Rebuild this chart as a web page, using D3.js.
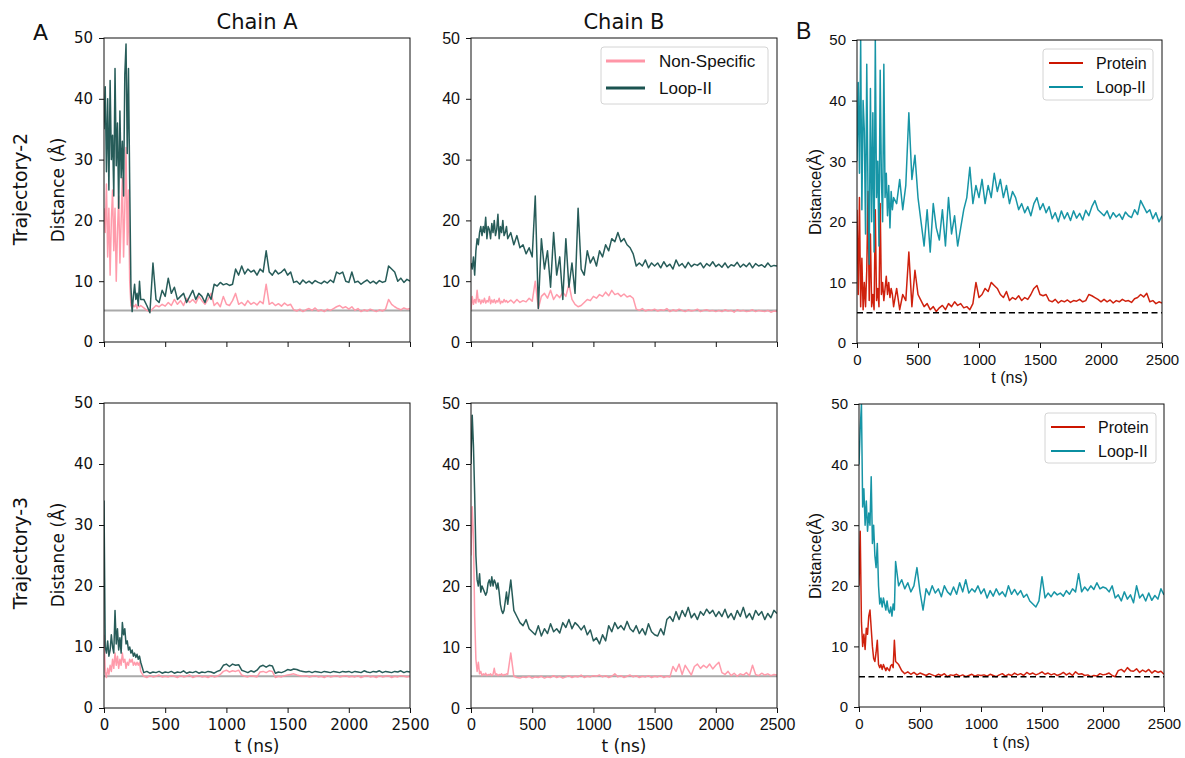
<!DOCTYPE html>
<meta charset="utf-8">

<!-- Load d3.js -->
<script src="https://d3js.org/d3.v7.min.js"></script>

<style>
  body { margin: 0; background: #fff; }
</style>

<!-- Create a div where the graph will take place -->
<div id="my_dataviz"></div>

<script>

// time axis (ns): 10 ns steps up to 300, then 25 ns steps
var timeNs = [0,10,20,30,40,50,60,70,80,90,100,110,120,130,140,150,160,170,180,190,200,210,220,230,240,250,260,270,280,290,300,
  325,350,375,400,425,450,475,500,
  525,550,575,600,625,650,675,700,725,750,775,800,825,850,875,900,925,950,975,1000,
  1025,1050,1075,1100,1125,1150,1175,1200,1225,1250,1275,1300,1325,1350,1375,1400,1425,1450,1475,1500,
  1525,1550,1575,1600,1625,1650,1675,1700,1725,1750,1775,1800,1825,1850,1875,1900,1925,1950,1975,2000,
  2025,2050,2075,2100,2125,2150,2175,2200,2225,2250,2275,2300,2325,2350,2375,2400,2425,2450,2475,2500];

// Trajectory-2, Chain A
var t2aNonSpecific = [22,18,26,14,22,11,20,25,15,22, 10,18,24,13,20,27,14,22,32,16, 25,10,6,5.5,6,5.8,6.2,5.5,6,5.8, 6,
  5.6,5.2,5,5.5,6,5.8,6.2,5.9,
  6.5,6,7,6.2,6.8,6,7.2,6.5,7,6.4, 7.5,6.8,6.2,7,8,6,6.5,5.8,7.5,6.2,
  6,6.8,8,6.2,6.5,6,6.8,6.2,6.5,6.1, 6.7,6.3,9.5,6.2,6.5,6,6.3,5.9,6.4,6,
  6.2,5.3,5.1,5.4,5,5.3,5.5,5.2,5.6,5.1, 5.3,5,5.4,5.2,5.5,5.8,6,5.6,5.8,5.4,
  5.8,5.2,5.5,5,5.3,5.1,5.4,5.2,5,5.3, 5.1,5.4,7,6.2,5.8,5.5,5.3,5.6,5.4,5.5];
var t2aLoop = [35,42,28,40,25,43,30,34,24,45, 29,36,22,38,27,33,24,44,49,31, 45,26,9,5,7.5,9.5,7,8,6,10, 7,
  7,6,4.8,13,7,6.5,8.5,7.5,
  10.5,8,9,7,7.5,8,6.5,7.5,8.5,7, 8,7.5,6.5,8,7,9.5,9.2,9.8,9.4,9.6,
  9.3,9.5,12,11,12.5,11.2,12,11.5,11.8,11, 12,11.5,15,11.5,11,11.8,11.2,11.5,12,11,
  11.5,9.8,10,9.5,10.2,9.7,10,9.6,10.1,9.8, 9.6,10,9.7,10.2,9.8,11.5,11.2,11.5,10,9.8,
  11.5,9.8,10,9.5,9.9,10.2,9.7,10,9.6,10.1, 9.8,10,12.5,12,11.5,10,10.5,9.8,10.3,10];

// Trajectory-2, Chain B
var t2bNonSpecific = [5.3,7.5,6.2,7,6.4,8.5,6.6,7,6.3,6.9, 6.5,7.2,6.4,6.8,6.6,7.5,6.3,6.9,6.5,7, 6.4,6.8,6.6,7.2,6.3,6.7,6.5,7,6.6,6.8, 6.5,
  6.9,6.4,7,6.5,6.8,6.6,7.2,6.7,
  10,5.5,7.5,8,7.2,8.5,7,7.8,7.3,8.2, 7.5,9.5,7,6.2,5.8,6,6.5,7,6.8,7.5,
  7.2,7.8,7.5,8.2,7.6,8.5,7.8,8,7.5,7.9, 7.4,7.6,7.2,5.4,5.2,5.5,5.1,5.3,5.2,5.4,
  5.1,5.3,5.2,5.5,5,5.3,5.1,5.4,5.2,5, 5.3,5.1,5.2,5.4,5,5.2,5.3,5.1,5.2,5,
  5.2,5,5.3,5.1,5.2,4.9,5.3,5.1,5.2,5, 5.1,5.3,5,5.2,5.1,5,5.2,4.9,5.1,5];
var t2bLoop = [13,12,14,11,15,17,16,18,19,17.5, 19,18,20.5,17,19,18.5,17,19.5,18,20, 17.5,18.5,21,17,19,18,20,17.5,18,19, 17,
  18,16,17.5,15.5,16,14.5,15.5,14,
  24,5.5,17,12,15,9,18,11,14,7, 17,9,13,8,22,12,11,15,13,14,
  12.5,15,14,16,15,17,16.5,18,16.5,17, 16,15.5,14.5,12.5,13,12.5,13.5,12.2,13,12.5,
  13,12.2,13.2,12.4,12.8,12,13.5,12.5,12.9,12.2, 13.1,12.4,12.8,12.6,13,12.2,12.9,12.5,13.2,12.4,
  12.8,12.3,13,12.2,12.7,12.5,13.1,12.3,12.8,12.4, 13,12.2,12.9,12.5,12.7,12.3,13,12.4,12.6,12.5];

// Trajectory-2, whole (panel B)
var t2Protein = [22,8,24,6,14,5.5,10,6,12,25, 7,18,6,8,5.5,22,7,9,6,23, 8,10,7,9,11,8,10,7.5,9,8, 6,
  9,5.5,8,7,15,6,12,8,
  7,6,6.5,5.5,6,5.2,5.8,6.2,5.5,6.5, 6,6.8,6.2,6.5,5.8,6,5.5,6.5,10,7.5,
  8,9,8.5,10,9.5,9,8,7.5,8.5,7, 7.5,7.2,7.8,7,7.5,7.2,8,9,9.5,8,
  7.8,8,7,6.8,7.2,6.6,7,6.8,7.1,6.7, 7,6.9,7.2,6.8,7,8,7.8,7.5,7.2,6.8,
  7.2,6.8,7.1,6.6,7,6.8,7.2,6.9,7,6.7, 7.3,7.5,8,7.6,8.2,6.8,7,6.5,6.8,6.6];
var t2LoopB = [30,43,28,50,22,40,35,18,46,25, 13,42,20,38,15,50,24,30,16,45, 27,20,46,24,28,21,26,19,25,22, 24,
  23,27,22,26,38,27,31,24,
  20,16,22,15,23,19,17,22,16,24, 18,21,16,19,22,24,29,23,26,24,
  27,23,26,24,28,25,27,24,26,23, 25,24,22,23,21.5,22.5,21,23,24,22,
  23,21.5,22.5,20.5,21.5,20,21.8,20.5,21.5,20.2, 21.8,20.6,21.4,20.3,21.9,21,22.5,23.5,22,21.5,
  21,21.8,20.5,21.5,20.8,21.3,20.4,21.6,21,20.7, 22,21.2,23.5,22.5,21.5,22,20.5,21.5,20,21];

// Trajectory-3, Chain A
var t3aNonSpecific = [12,6,5,6.5,5.5,7,6,8,6.5,9, 7,8.5,6.5,8,7,9,7.5,8,6.5,7.5, 7,8,7.5,8,7,7.5,7,7.5,7,7.5, 6,
  5.2,5,5.3,5.1,5.2,5.4,5.1,5.2,
  5.1,5.3,5.2,5,5.3,5.1,5.2,5.4,5,5.2, 5.3,5.1,5.2,5,5.3,5.1,5.2,5.5,6,6.2,
  5.9,6.1,6,6.2,5.4,5.2,5.1,5.3,5.2,5.1, 5.9,6,5.8,6.1,6,5,5.2,5.1,5.3,5.4,
  5.5,5.6,5.4,5.3,5.2,5.3,5.1,5.2,5.3,5.1, 5.2,5,5.3,5.1,5.2,5.3,5.1,5.2,5.3,5.1,
  5.2,5.1,5.3,5,5.2,5.3,5.1,5.2,5,5.3, 5.1,5.2,5.3,5,5.2,5.1,5.3,5.2,5.1,5.2];
var t3aLoop = [34,10,9,11,8.5,9.5,12,10,9,16, 10.5,13,9.5,11.5,9,14,12,13,10.5,11, 9.5,10,9,9.5,8.5,9,8.3,8.8,8,8.5, 7.5,
  5.8,6,5.7,5.9,5.8,6,5.7,5.9,
  5.8,6,5.7,5.9,5.8,6.1,5.7,5.9,5.8,6, 5.7,5.9,5.8,6,5.9,5.7,6,6.2,7,7.2,
  6.8,7.2,7,7.1,6.2,6,5.8,6.1,5.9,6.2, 6.8,7,6.7,7,6.9,5.7,5.9,5.8,6,6.3,
  6.2,6.4,6.3,6.1,6,5.9,6,5.8,6,5.9, 5.8,6,5.9,5.8,6,5.9,5.8,6,5.9,6,
  5.8,6,5.9,5.8,6.1,5.9,5.8,6,5.9,6.1, 5.8,6,5.9,5.8,6,5.9,6.1,5.8,6,5.9];

// Trajectory-3, Chain B
var t3bNonSpecific = [25,33,28,15,8,6,7.5,5.6,6,5.3, 5.6,5.4,5.7,5.3,5.5,5.4,5.6,5.3,5.5,6.5, 5.4,5.6,5.3,5.5,5.4,5.6,5.3,5.5,5.4,5.6, 5.5,
  9,5.2,5,4.9,5.1,5,5.2,4.9,
  5.1,5,5.2,4.9,5.1,5,5.3,5,5.2,4.9, 5.1,5.3,5,5.2,5.1,5.4,5,5.2,5.1,5.3,
  5.2,5.4,5.1,5.3,5,5.2,5.6,5.1,5.3,5, 5.2,5.4,5.1,5.3,5,5.2,5.1,5.3,5,5.2,
  5.1,5.3,5,5.2,5.1,6.8,6,7.2,5.5,7, 6.2,5.4,6.8,7.2,6.5,7,6.6,7.2,6.4,7,
  7.5,5.8,5.5,6,5.3,5.7,5.2,5.6,5.4,5.8, 5.3,7,5.5,5.3,5.7,5.4,5.6,5.3,5.5,5.4];
var t3bLoop = [40,48,43,35,25,21,20,22,19,20, 19.5,19,18.5,19,20.5,21,20,21.5,20,21, 20.5,19.5,20.5,19,17,16,15.5,16,17.5,19, 17,
  21,16,15,14,13.5,14.5,13,12.5,
  12,13.5,11.8,13,12.2,13.8,12.5,13,12.3,14, 13.2,14.5,13,14,13.5,12.8,13.5,12,12.8,11,
  11.5,10.5,12,11,13.5,12.5,14,13,13.5,12.8, 14.2,13,12.5,13.5,12.2,13,12,13.8,12.5,12,
  11.8,13,12,14.5,15,14.2,15.8,14.5,16,15, 16.5,14.8,15.5,14.5,15.8,15.2,16.2,15.5,16,15,
  15.8,15,16.2,14.8,15.5,14.5,16,15,16.5,14.8, 15.5,14.5,16,15.2,15.8,14.5,15.5,14.8,16,15.5];

// Trajectory-3, whole (panel B)
var t3Protein = [20,29,14,10,12,9.5,13,12,15,16, 13,10,8,7.5,9,11,7,6.5,7,6.2, 7,6.5,6,6.5,6.2,6,6.8,7,6.5,11, 7.5,
  7,6,5.5,5.8,5.4,5.7,5.3,5.6,
  5.4,5.2,5.5,5.3,5.1,5.4,5.2,5.5,5,5.3, 5.2,5.4,5.1,5.3,5,5.2,5.4,5.1,5.3,5.2,
  5.3,5.1,5.4,5.2,5,5.3,5.5,5.1,5.4,5.2, 5.6,5.3,5.5,5.2,5.7,5.4,5.6,5.3,5.5,5.8,
  5.4,5.6,5.3,5.5,5.2,5.4,5.7,5.3,5.6,5.2, 5.8,5.4,5.5,5.2,5.3,5,5.2,5.1,5.5,5.3,
  5.4,5.6,5.2,5,6,6.2,5.8,6.5,6,5.9, 6.3,5.7,6.1,5.8,6.2,5.6,6,5.7,5.9,5.4];
var t3LoopB = [40,46,50,33,36,30,34,29,32,30, 38,27,30,25,23,27,20,17,18,16.5, 18,17,16,17.5,16,15.5,16.5,15,17,16, 24,
  20,21,19.5,20.5,19,20,23,19,
  16,19.5,18.5,20,18.8,19.5,18.2,20,19,18.5, 19.8,18.6,20.5,19,21,18.8,19.5,19,20,18.7,
  19.5,18,19.2,18.3,19.5,18.5,19,18.2,20,18.6, 19.4,18.5,19.2,18.1,18.6,17.5,17,16.5,17.5,21.5,
  18,18.8,18.2,19,18.5,18.8,18.3,19.2,18.6,19.5, 19,22,19,19.8,19.2,20,19.4,20.5,19.5,19.8,
  19.6,19,20,18,18.5,17.5,19,17.8,18.5,17.2, 20,18,18.6,17.5,18.8,17.6,18.4,17.8,19.5,18.5];

var yTicks = [0, 10, 20, 30, 40, 50];
var xTicks = [0, 500, 1000, 1500, 2000, 2500];

var pink = "#ff96a7", dark = "#1b5350", red = "#cc1500", teal = "#0b8fa1";
var sans = "DejaVu Sans", arial = "Liberation Sans, Arial, sans-serif";

// append the svg object to the body of the page
var svg = d3.select("#my_dataviz")
  .append("svg")
    .attr("width", 1185)
    .attr("height", 758);

var panels = [
  {id: "p1", l: 104, r: 410, t: 38, b: 342, font: sans, fs: 15, xLab: false, ref: "gray",
   series: [[t2aNonSpecific, pink], [t2aLoop, dark]]},
  {id: "p2", l: 471, r: 777, t: 38, b: 342, font: arial, fs: 16, xLab: false, ref: "gray",
   series: [[t2bNonSpecific, pink], [t2bLoop, dark]],
   legend: {x: 601, y: 47, w: 167, h: 57, names: ["Non-Specific", "Loop-II"], colors: [pink, dark], fs: 17, lw: 3, lx0: 606, lx1: 645, tx: 659, dy: 27}},
  {id: "p3", l: 857, r: 1162, t: 40, b: 343, font: arial, fs: 15, xLab: true, xTitleY: 383, ref: "dash",
   series: [[t2Protein, red], [t2LoopB, teal]],
   legend: {x: 1043, y: 49, w: 110, h: 51, names: ["Protein", "Loop-II"], colors: [red, teal], fs: 16, lw: 2, lx0: 1049, lx1: 1083, tx: 1096, dy: 24}},
  {id: "p4", l: 104, r: 410, t: 403, b: 708, font: sans, fs: 15, xLab: true, xTitleY: 752, ref: "gray",
   series: [[t3aNonSpecific, pink], [t3aLoop, dark]]},
  {id: "p5", l: 471, r: 777, t: 403, b: 708, font: arial, fs: 16, xLab: true, xTitleY: 752, ref: "gray",
   series: [[t3bNonSpecific, pink], [t3bLoop, dark]]},
  {id: "p6", l: 859, r: 1164, t: 404, b: 707, font: arial, fs: 15, xLab: true, xTitleY: 748, ref: "dash",
   series: [[t3Protein, red], [t3LoopB, teal]],
   legend: {x: 1045, y: 413, w: 111, h: 50, names: ["Protein", "Loop-II"], colors: [red, teal], fs: 16, lw: 2, lx0: 1051, lx1: 1085, tx: 1098, dy: 24}}
];

function drawPanel(p) {
  var x = d3.scaleLinear().domain([0, 2500]).range([p.l, p.r]);
  var y = d3.scaleLinear().domain([0, 50]).range([p.b, p.t]);

  svg.append("clipPath").attr("id", "clip-" + p.id)
    .append("rect")
      .attr("x", p.l).attr("y", p.t)
      .attr("width", p.r - p.l).attr("height", p.b - p.t);

  var g = svg.append("g").attr("clip-path", "url(#clip-" + p.id + ")");

  // reference distance line
  if (p.ref == "gray") {
    g.append("line")
      .attr("x1", x(0)).attr("x2", x(2500))
      .attr("y1", y(5.2)).attr("y2", y(5.2))
      .attr("stroke", "#aaaaaa").attr("stroke-width", 2);
  }

  var line = d3.line()
    .defined(function(d, i) { return timeNs[i] != null; })
    .x(function(d, i) { return x(timeNs[i]); })
    .y(function(d) { return y(d); });

  p.series.forEach(function(s) {
    g.append("path")
      .datum(s[0])
      .attr("fill", "none")
      .attr("stroke", s[1])
      .attr("stroke-width", 1.5)
      .attr("stroke-opacity", 0.95)
      .attr("stroke-linejoin", "round")
      .attr("d", line);
  });

  if (p.ref == "dash") {
    g.append("line")
      .attr("x1", x(0)).attr("x2", x(2500))
      .attr("y1", y(5)).attr("y2", y(5))
      .attr("stroke", "#000").attr("stroke-width", 1.6)
      .attr("stroke-dasharray", "6,3.5");
  }

  // Y axis
  var ya = svg.append("g")
    .attr("transform", "translate(" + p.l + ",0)")
    .call(d3.axisLeft(y).tickValues(yTicks).tickSize(5).tickPadding(6));
  ya.select(".domain").remove();

  // X axis
  var xa = svg.append("g")
    .attr("transform", "translate(0," + p.b + ")")
    .call(d3.axisBottom(x).tickValues(xTicks).tickSize(5).tickPadding(6)
      .tickFormat(p.xLab ? d3.format("d") : ""));
  xa.select(".domain").remove();

  svg.selectAll("g.tick text")
    .filter(function() { return !this.dataset.done; })
    .each(function() { this.dataset.done = 1; })
    .attr("font-family", p.font)
    .attr("font-size", p.fs)
    .attr("fill", "#111");
  svg.selectAll("g.tick line").attr("stroke", "#111");

  // frame
  svg.append("rect")
    .attr("x", p.l).attr("y", p.t)
    .attr("width", p.r - p.l).attr("height", p.b - p.t)
    .attr("fill", "none").attr("stroke", "#111").attr("stroke-width", 1);

  if (p.xLab) {
    svg.append("text")
      .attr("x", (p.l + p.r) / 2).attr("y", p.xTitleY)
      .attr("text-anchor", "middle")
      .attr("font-family", p.font == sans || p.id == "p5" ? sans : arial)
      .attr("font-size", p.font == sans || p.id == "p5" ? 17 : 16)
      .attr("fill", "#111")
      .text("t (ns)");
  }

  if (p.legend) {
    var lg = p.legend;
    svg.append("rect")
      .attr("x", lg.x).attr("y", lg.y).attr("width", lg.w).attr("height", lg.h)
      .attr("rx", 3).attr("fill", "#fff").attr("fill-opacity", 0.85)
      .attr("stroke", "#d4d4d4");
    lg.names.forEach(function(n, i) {
      var ly = lg.y + 14 + i * lg.dy;
      svg.append("line")
        .attr("x1", lg.lx0).attr("x2", lg.lx1).attr("y1", ly).attr("y2", ly)
        .attr("stroke", lg.colors[i]).attr("stroke-width", lg.lw);
      svg.append("text")
        .attr("x", lg.tx).attr("y", ly)
        .attr("dy", "0.35em")
        .attr("font-family", arial).attr("font-size", lg.fs).attr("fill", "#111")
        .text(n);
    });
  }
}

panels.forEach(drawPanel);

// rotated labels
function vText(txt, cx, cy, font, size) {
  svg.append("text")
    .attr("transform", "translate(" + cx + "," + cy + ") rotate(-90)")
    .attr("text-anchor", "middle")
    .attr("dominant-baseline", "central")
    .attr("font-family", font).attr("font-size", size).attr("fill", "#111")
    .text(txt);
}
vText("Trajectory-2", 20, 189, sans, 19);
vText("Trajectory-3", 20, 553, sans, 19);
vText("Distance (Å)", 58, 190, sans, 17);
vText("Distance (Å)", 58, 555, sans, 17);
vText("Distance(Å)", 815, 192, arial, 16.5);
vText("Distance(Å)", 815, 556, arial, 16.5);

// column titles and panel letters
svg.append("text").attr("x", 257).attr("y", 29).attr("text-anchor", "middle")
  .attr("font-family", sans).attr("font-size", 21).attr("fill", "#111").text("Chain A");
svg.append("text").attr("x", 624).attr("y", 29).attr("text-anchor", "middle")
  .attr("font-family", sans).attr("font-size", 21).attr("fill", "#111").text("Chain B");
svg.append("text").attr("x", 33).attr("y", 40)
  .attr("font-family", sans).attr("font-size", 22).attr("fill", "#111").text("A");
svg.append("text").attr("x", 796).attr("y", 39)
  .attr("font-family", arial).attr("font-size", 23).attr("fill", "#111").text("B");

</script>
